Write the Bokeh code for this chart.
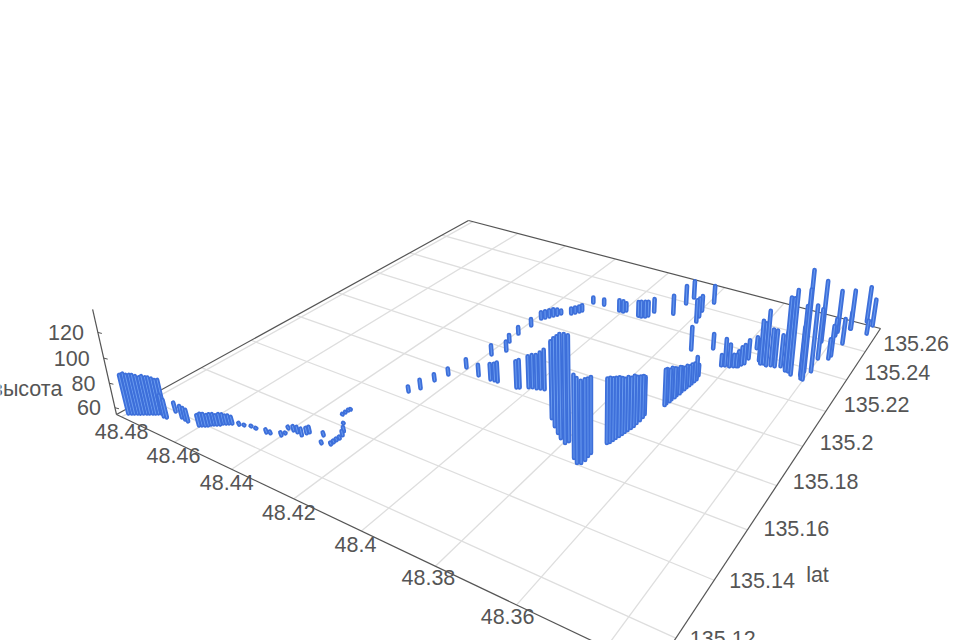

import numpy as np
from bokeh.plotting import figure
from bokeh.embed import file_html
from bokeh.resources import INLINE
from bokeh.core.properties import value

lon_ticks = [48.48, 48.46, 48.44, 48.42, 48.4, 48.38, 48.36, 48.34]
lat_ticks = [135.26, 135.24, 135.22, 135.2, 135.18, 135.16, 135.14, 135.12]
z_ticks = [60, 80, 100, 120]
lat_axis_name = "lat"
z_axis_name = "высота"

lon_values = [
48.4791,48.4784,48.4778,48.4771,48.4765,48.4759,48.4752,
48.4746,48.4739,48.4733,48.4727,48.4720,48.4714,48.4705,
48.4695,48.4698,48.4663,48.4649,48.4636,48.4599,48.4593,
48.4586,48.4580,48.4577,48.4571,48.4565,48.4558,48.4555,
48.4549,48.4543,48.4536,48.4518,48.4505,48.4487,48.4470,
48.4436,48.4425,48.4396,48.4394,48.4403,48.4386,48.4372,
48.4354,48.4350,48.4347,48.4309,48.4290,48.4268,48.4268,
48.4268,48.4267,48.4270,48.4279,48.4303,48.4332,48.4332,
48.4332,48.4330,48.4259,48.4242,48.4235,48.4222,48.4202,
48.4150,48.4111,48.4099,48.4089,48.4184,48.4161,48.4182,
48.4186,48.4181,48.4179,48.4172,48.4165,48.4158,48.4151,
48.4145,48.4119,48.4112,48.4105,48.4101,48.4098,48.4063,
48.4005,48.3992,48.3987,48.3941,48.3931,48.3921,48.3916,
48.3912,48.3857,48.3852,48.3848,48.3781,48.3777,48.3783,
48.3791,48.3721,48.3660,48.3660,48.3657,48.3657,48.3654,
48.3654,48.3651,48.3651,48.3649,48.3648,48.3646,48.3645,
48.3643,48.3642,48.3646,48.4030,48.4023,48.4003,48.3994,
48.3982,48.3973,48.3962,48.3875,48.3850,48.3828,48.3811,
48.3792,48.3788,48.3743,48.3727,48.3719,48.3717,48.3719,
48.3719,48.3706,48.3702,48.3700,48.3698,48.3695,48.3693,
48.3691,48.3689,48.3686,48.3684,48.3684,48.3683,48.3683,
48.3685,48.3670,48.3614,48.3605,48.3593,48.3584,48.3577,
48.3573,48.3569,48.3564,48.3564,48.3565,48.3535,48.3526,
48.3519,48.3509,48.3498,48.3487,48.3473,48.3459,48.3455,
48.3446,48.3435,48.3411,48.3405,48.3399,48.3409,48.3393,
48.3399,48.3421,48.3374,48.3373,48.3398,48.3399,48.3366,
48.3373,48.3371,48.3323,48.3343,48.3322]
lat_values = [
135.1115,135.1120,135.1124,135.1129,135.1133,135.1138,135.1143,
135.1147,135.1152,135.1156,135.1161,135.1165,135.1170,135.1159,
135.1160,135.1193,135.1183,135.1181,135.1179,135.1182,135.1187,
135.1191,135.1196,135.1203,135.1208,135.1212,135.1217,135.1225,
135.1229,135.1234,135.1238,135.1245,135.1250,135.1257,135.1257,
135.1259,135.1262,135.1271,135.1284,135.1305,135.1306,135.1305,
135.1301,135.1315,135.1323,135.1333,135.1303,135.1313,135.1324,
135.1335,135.1346,135.1361,135.1377,135.1405,135.1436,135.1448,
135.1460,135.1467,135.1629,135.1661,135.1718,135.1767,135.1829,
135.1812,135.1813,135.1815,135.1815,135.1934,135.1979,135.2031,
135.2090,135.2158,135.2216,135.2229,135.2243,135.2256,135.2269,
135.2283,135.2301,135.2314,135.2328,135.2340,135.2411,135.2418,
135.2408,135.2409,135.2421,135.2411,135.2411,135.2418,135.2430,
135.2466,135.2488,135.2579,135.2635,135.2638,135.2479,135.2517,
135.2561,135.2302,135.1970,135.1982,135.1996,135.2009,135.2023,
135.2036,135.2050,135.2063,135.2078,135.2091,135.2106,135.2119,
135.2134,135.2148,135.2172,135.1818,135.1823,135.1838,135.1844,
135.1846,135.1852,135.1854,135.1739,135.1710,135.1687,135.1671,
135.1658,135.1671,135.1614,135.1599,135.1605,135.1622,135.1641,
135.1657,135.1719,135.1727,135.1740,135.1752,135.1765,135.1778,
135.1790,135.1803,135.1816,135.1829,135.1846,135.1864,135.1882,
135.1898,135.2345,135.2263,135.2269,135.2271,135.2278,135.2283,
135.2286,135.2302,135.2313,135.2348,135.2421,135.2354,135.2339,
135.2344,135.2338,135.2346,135.2347,135.2357,135.2353,135.2341,
135.2341,135.2328,135.2339,135.2322,135.2320,135.2367,135.2379,
135.2465,135.2575,135.2483,135.2506,135.2639,135.2668,135.2600,
135.2711,135.2711,135.2707,135.2789,135.2773]
z_values = [
89,90,89,89,89,88,87,
88,87,87,86,85,85,75,
72,65,67,67,67,66,67,
67,66,66,66,65,66,65,
64,64,63,59,58,58,58,
60,59,60,58,59,61,62,
63,62,62,60,59,59,59,
59,59,61,61,58,58,58,
58,58,62,65,63,63,65,
67,71,72,74,66,66,64,
64,64,64,64,64,64,63,
61,63,63,63,63,63,63,
68,68,65,71,72,72,71,
70,75,75,74,74,78,75,
72,78,87,86,84,84,82,
80,80,78,76,76,74,74,
73,77,67,80,81,84,85,
86,88,91,119,127,133,138,
141,139,121,122,120,119,117,
116,108,108,106,105,104,102,
100,100,98,98,95,93,91,
88,71,67,81,77,68,68,
71,73,74,74,68,76,95,
93,105,89,89,85,89,120,
120,129,99,119,133,143,114,
101,112,75,84,73,95,80,
73,93,70,90,82]

lon_max, lon_min = 48.482, 48.33
lat_min, lat_max = 135.11, 135.278
z_min, z_max = 54.4, 137.5

L=(116,414);B=(468,220);R=(880,328);F=(654,670)
pts=[((0,0),L),((0,1),B),((1,1),R),((1,0),F)]
A=[];b=[]
for (u,v),(x,y) in pts:
    A.append([u,v,1,0,0,0,-u*x,-v*x]);b.append(x)
    A.append([0,0,0,u,v,1,-u*y,-v*y]);b.append(y)
s=np.linalg.solve(np.array(A,float),np.array(b,float))
H=np.array([[s[0],s[1],s[2]],[s[3],s[4],s[5]],[s[6],s[7],1.0]])
VX,VY=590.,2500.
K=-0.000577
def proj(lon,lat,z):
    u=(lon_max-lon)/(lon_max-lon_min); v=(lat-lat_min)/(lat_max-lat_min)
    q=H@np.array([u,v,1.0]); Z=z-z_min
    return (q[0]+K*VX*Z)/(q[2]+K*Z),(q[1]+K*VY*Z)/(q[2]+K*Z),q[2]

p=figure(width=960,height=640,x_range=(0,960),y_range=(640,0),output_backend="svg",toolbar_location=None,min_border=0)
p.axis.visible=False;p.grid.visible=False;p.outline_line_color=None
def seg(a,b,c,wd):
    p0=proj(*a);p1=proj(*b)
    p.line([p0[0],p1[0]],[p0[1],p1[1]],line_color=c,line_width=wd)
for lo in lon_ticks: seg((lo,lat_min,z_min),(lo,lat_max,z_min),"#dedede",1.3)
for la in lat_ticks: seg((lon_min,la,z_min),(lon_max,la,z_min),"#dedede",1.3)
AX="#555555"
seg((lon_max,lat_min,z_min),(lon_max,lat_max,z_min),AX,1.2)
seg((lon_max,lat_max,z_min),(lon_min,lat_max,z_min),AX,1.2)
seg((lon_min,lat_max,z_min),(lon_min,lat_min,z_min),AX,1.2)
seg((lon_min,lat_min,z_min),(lon_max,lat_min,z_min),AX,1.2)
seg((lon_max,lat_min,z_min),(lon_max,lat_min,z_max),AX,1.2)
font=value("Liberation Sans")
def lab(xs,ys,t,al,dx,dy):
    p.text(xs,ys,text=t,text_font=font,text_font_size="21.5px",text_color="#555555",text_align=al,text_baseline="middle",x_offset=dx,y_offset=dy)
P=[proj(l,lat_min,z_min) for l in lon_ticks[:-1]]
lab([q[0] for q in P],[q[1] for q in P],[f"{l:g}" for l in lon_ticks[:-1]],"center",[0,-1,-5,-5,-6,-7,-9],[15,13,13,14,13,11,12])
P=[proj(lon_min,l,z_min) for l in lat_ticks]
lab([q[0] for q in P],[q[1] for q in P],[f"{l:g}" for l in lat_ticks],"left",[18,18,18,17,16,16,15,14],[-8,-7,-7,-4,-4,-1,0,0])
P=[proj(lon_max,lat_min,z) for z in z_ticks]
lab([q[0] for q in P],[q[1] for q in P],[str(z) for z in z_ticks],"right",-14,0)
p.segment([q[0] for q in P],[q[1] for q in P],[q[0]+4 for q in P],[q[1]+1 for q in P],line_color=AX,line_width=1)
q=proj(lon_min,135.14,z_min); lab([q[0]],[q[1]],[lat_axis_name],"left",92,-5)
q=proj(lon_max,lat_min,80); lab([q[0]],[q[1]],[z_axis_name],"right",-47,6)

rows=sorted(zip(lon_values,lat_values,z_values),key=lambda r:-proj(*r)[2])
xs=[];ys=[];cs=[];ws=[]
for lo,la,z in rows:
    a=proj(lo,la,z_min);t=proj(lo,la,z)
    y0=a[1]-2;y1=t[1]+2
    if y1>y0: y0=y1=(a[1]+t[1])/2
    xs+=[[a[0],t[0]],[a[0],t[0]]];ys+=[[y0,y1],[y0,y1]]
    cs+=["#3d6fda","#6a9bef"];ws+=[4.6,1.0]
p.multi_line(xs,ys,line_color=cs,line_width=ws,line_cap="round")
open("out.html","w").write(file_html(p,INLINE))
